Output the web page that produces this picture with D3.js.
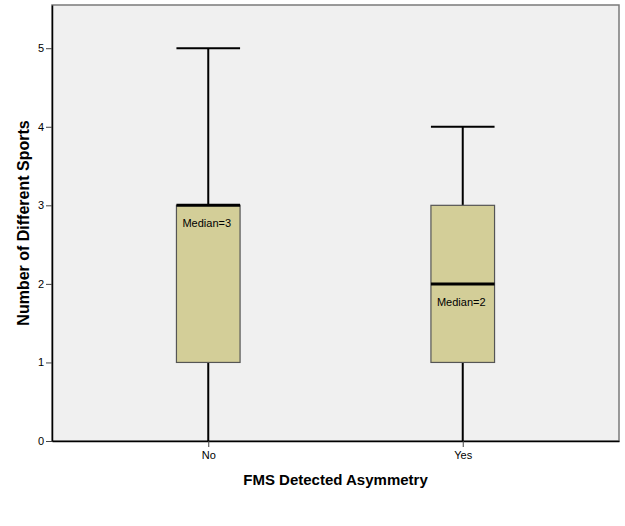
<!DOCTYPE html>
<html>
<head>
<meta charset="utf-8">
<script src="https://cdn.jsdelivr.net/npm/d3@7"></script>
<style>
  body { margin: 0; background: #fff; }
  svg { display: block; font-family: "Liberation Sans", Arial, sans-serif; }
</style>
</head>
<body>
<div id="chart"></div>
<script>
const groups = ['No', 'Yes'];
const mins = [0, 0];
const q1s = [1, 1];
const medians = [3, 2];
const q3s = [3, 3];
const maxs = [5, 4];
const yTicks = [0, 1, 2, 3, 4, 5];

const width = 625;
const height = 526;
const plot = { left: 52, top: 5, right: 619, bottom: 441 };

const data = groups.map((g, i) => ({
  name: g, min: mins[i], q1: q1s[i], median: medians[i], q3: q3s[i], max: maxs[i]
}));

const x = d3.scalePoint().domain(groups).range([plot.left, plot.right]).padding(0.614);
const y = d3.scaleLinear().domain([0, 5.55]).range([plot.bottom, plot.top]);
const boxW = x.step() * 0.25;
const capW = x.step() * 0.125;

const svg = d3.select('#chart')
  .append('svg')
  .attr('width', width)
  .attr('height', height);

// plot background + frame (top/right grey, axes drawn black on top)
svg.append('rect')
  .attr('x', plot.left)
  .attr('y', plot.top)
  .attr('width', plot.right - plot.left)
  .attr('height', plot.bottom - plot.top)
  .attr('fill', '#f0f0f0')
  .attr('stroke', '#7a7a7a')
  .attr('stroke-width', 1.5);

// y axis
const yAxis = svg.append('g')
  .attr('transform', `translate(${plot.left},0)`)
  .call(d3.axisLeft(y).tickValues(yTicks).tickSize(6).tickSizeOuter(0)
    .tickPadding(2).tickFormat(d3.format('d')));
yAxis.select('.domain').attr('stroke', '#000').attr('stroke-width', 1.5);
yAxis.selectAll('.tick line').attr('stroke', '#444');
yAxis.selectAll('.tick text').attr('font-size', 11).attr('fill', '#000')
  .attr('font-family', '"Liberation Sans", Arial, sans-serif');

// x axis
const xAxis = svg.append('g')
  .attr('transform', `translate(0,${plot.bottom})`)
  .call(d3.axisBottom(x).tickSize(6).tickSizeOuter(0).tickPadding(4));
xAxis.select('.domain').attr('stroke', '#000').attr('stroke-width', 1.5);
xAxis.selectAll('.tick line').attr('stroke', '#444');
xAxis.selectAll('.tick text').attr('font-size', 11).attr('fill', '#000')
  .attr('font-family', '"Liberation Sans", Arial, sans-serif');

const box = svg.append('g')
  .selectAll('g')
  .data(data)
  .join('g')
  .attr('transform', (d) => `translate(${x(d.name)},0)`);

// whiskers
box.append('line')
  .attr('x1', 0).attr('x2', 0)
  .attr('y1', (d) => y(d.max)).attr('y2', (d) => y(d.q3))
  .attr('stroke', '#000').attr('stroke-width', 2);
box.append('line')
  .attr('x1', 0).attr('x2', 0)
  .attr('y1', (d) => y(d.q1)).attr('y2', (d) => y(d.min))
  .attr('stroke', '#000').attr('stroke-width', 2);
box.append('line')
  .attr('x1', -capW).attr('x2', capW)
  .attr('y1', (d) => y(d.max)).attr('y2', (d) => y(d.max))
  .attr('stroke', '#000').attr('stroke-width', 2);

box.append('rect')
  .attr('x', -boxW / 2)
  .attr('y', (d) => y(d.q3))
  .attr('width', boxW)
  .attr('height', (d) => y(d.q1) - y(d.q3))
  .attr('fill', '#d3ce98')
  .attr('stroke', '#555')
  .attr('stroke-width', 1.2);

box.append('line')
  .attr('x1', -boxW / 2).attr('x2', boxW / 2)
  .attr('y1', (d) => y(d.median)).attr('y2', (d) => y(d.median))
  .attr('stroke', '#000').attr('stroke-width', 3);

box.append('text')
  .attr('x', -boxW / 2 + 6)
  .attr('y', (d) => y(d.median) + 22)
  .attr('font-size', 11)
  .attr('fill', '#000')
  .text((d) => `Median=${d.median}`);

// axis titles
svg.append('text')
  .attr('x', (plot.left + plot.right) / 2)
  .attr('y', 485)
  .attr('text-anchor', 'middle')
  .attr('font-size', 15)
  .attr('font-weight', 'bold')
  .text('FMS Detected Asymmetry');

svg.append('text')
  .attr('transform', `translate(29,${(plot.top + plot.bottom) / 2}) rotate(-90)`)
  .attr('text-anchor', 'middle')
  .attr('font-size', 16)
  .attr('font-weight', 'bold')
  .text('Number of Different Sports');
</script>
</body>
</html>
